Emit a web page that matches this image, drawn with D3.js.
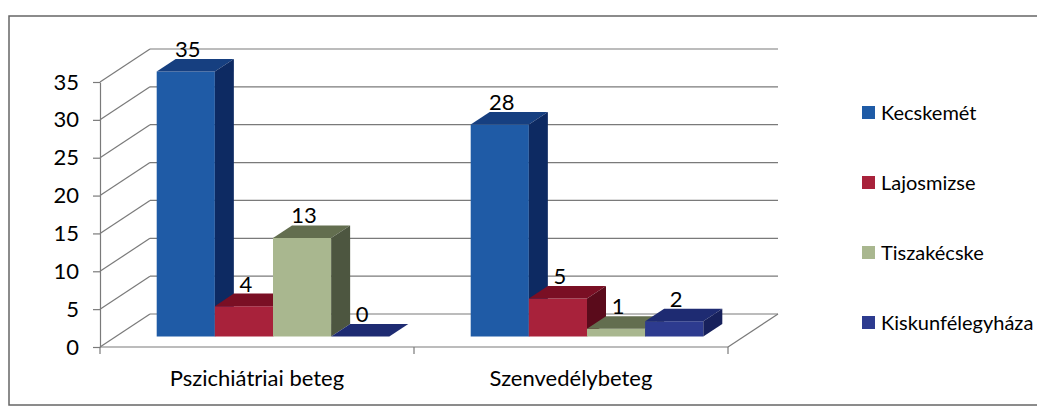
<!DOCTYPE html>
<html>
<head>
<meta charset="utf-8">
<script src="https://cdn.jsdelivr.net/npm/d3@7"></script>
<style>
  body { margin: 0; background: #fff; }
  svg text { font-family: Lato, "Open Sans", sans-serif; fill: #000; }
</style>
</head>
<body>
<svg id="chart" width="1037" height="406"></svg>
<script>
// data
const categories = ["Pszichiátriai beteg", "Szenvedélybeteg"];
const series = ["Kecskemét", "Lajosmizse", "Tiszakécske", "Kiskunfélegyháza"];
const kecskemet = [35, 28];
const lajosmizse = [4, 5];
const tiszakecske = [13, 1];
const kiskunfelegyhaza = [0, 2];
const yTicks = [0, 5, 10, 15, 20, 25, 30, 35];

const values = [kecskemet, lajosmizse, tiszakecske, kiskunfelegyhaza];

// face colours per series: front, top, side
const colors = {
    "Kecskemét":        {front: "#1f5ba6", top: "#163f80", side: "#0d2a62"},
    "Lajosmizse":       {front: "#a8223b", top: "#7a0f24", side: "#5a0b1b"},
    "Tiszakécske":      {front: "#a9b78f", top: "#636e4f", side: "#4d5640"},
    "Kiskunfélegyháza": {front: "#2d3b8f", top: "#1e2b72", side: "#17215c"}
};
const legendColors = ["#1f5ba6", "#a8223b", "#a9b78f", "#2d3b8f"];

const svg = d3.select("#chart");

// 3d offset of the back wall
const depthX = 50, depthY = -33;
const zFront = 0.32, zBack = 0.70;

const x0 = d3.scaleBand()
    .domain(categories)
    .range([100, 728])
    .paddingInner(0)
    .paddingOuter(0);

const x1 = d3.scaleBand()
    .domain(series)
    .range([0, x0.bandwidth()])
    .paddingInner(0)
    .paddingOuter(0.7);

const y = d3.scaleLinear()
    .domain([0, 35])
    .range([347, 82]);

const proj = (px, py, z) => [px + z * depthX, py + z * depthY];

// outer frame
svg.append("rect")
    .attr("x", 9).attr("y", 16)
    .attr("width", 1040).attr("height", 389)
    .attr("fill", "none")
    .attr("stroke", "#666")
    .attr("stroke-width", 1.5);

const grid = svg.append("g").attr("stroke", "#7a7a7a").attr("stroke-width", 1.2).attr("fill", "none");

// side wall diagonals + back wall gridlines
yTicks.forEach(t => {
    const a = proj(100, y(t), 0), b = proj(100, y(t), 1), c = proj(728, y(t), 1);
    grid.append("line").attr("x1", a[0]).attr("y1", a[1]).attr("x2", b[0]).attr("y2", b[1]);
    grid.append("line").attr("x1", b[0]).attr("y1", b[1]).attr("x2", c[0]).attr("y2", c[1]);
});

// floor edges
const fl = proj(100, y(0), 0), fr = proj(728, y(0), 0), br = proj(728, y(0), 1);
grid.append("line").attr("x1", fl[0]).attr("y1", fl[1]).attr("x2", fr[0]).attr("y2", fr[1]);
grid.append("line").attr("x1", fr[0]).attr("y1", fr[1]).attr("x2", br[0]).attr("y2", br[1]);

// category ticks
const catEdges = categories.map(c => x0(c)).concat([x0.range()[1]]);
catEdges.forEach(e => {
    grid.append("line").attr("x1", e).attr("y1", y(0)).attr("x2", e).attr("y2", y(0) + 7);
});

// y axis
const yAxis = d3.axisLeft(y).tickValues(yTicks).tickSize(7).tickSizeOuter(0).tickPadding(14);
const ya = svg.append("g").attr("transform", "translate(100,0)").call(yAxis);
ya.selectAll("path, line").attr("stroke", "#7a7a7a").attr("stroke-width", 1.2);
ya.selectAll("text").style("font-size", "22px").style("font-family", "Lato, sans-serif").attr("fill", "#000");

// category labels
svg.append("g").selectAll("text")
    .data(categories)
    .join("text")
    .attr("x", d => x0(d) + x0.bandwidth() / 2)
    .attr("y", 386)
    .attr("text-anchor", "middle")
    .style("font-size", "22px")
    .text(d => d);

// bars, drawn left to right so later fronts cover earlier sides
const bars = [];
categories.forEach((c, ci) => {
    series.forEach((s, si) => {
        bars.push({cat: c, ser: s, value: values[si][ci]});
    });
});

const poly = pts => "M" + pts.map(p => p.join(",")).join("L") + "Z";

const barG = svg.append("g");
bars.forEach(d => {
    const xl = x0(d.cat) + x1(d.ser);
    const xr = xl + x1.bandwidth();
    const yt = y(d.value), yb = y(0);
    const col = colors[d.ser];
    const g = barG.append("g");
    // front
    g.append("path")
        .attr("d", poly([proj(xl, yt, zFront), proj(xr, yt, zFront), proj(xr, yb, zFront), proj(xl, yb, zFront)]))
        .attr("fill", col.front);
    // top
    g.append("path")
        .attr("d", poly([proj(xl, yt, zFront), proj(xr, yt, zFront), proj(xr, yt, zBack), proj(xl, yt, zBack)]))
        .attr("fill", col.top);
    // side
    g.append("path")
        .attr("d", poly([proj(xr, yt, zFront), proj(xr, yt, zBack), proj(xr, yb, zBack), proj(xr, yb, zFront)]))
        .attr("fill", col.side);
});

// data labels
svg.append("g").selectAll("text")
    .data(bars)
    .join("text")
    .attr("x", d => proj(x0(d.cat) + x1(d.ser) + x1.bandwidth() / 2, 0, zFront)[0] + 2)
    .attr("y", d => proj(0, y(d.value), zBack)[1] - 2)
    .attr("text-anchor", "middle")
    .style("font-size", "22px")
    .text(d => d.value);

// legend
const legend = svg.append("g").selectAll("g")
    .data(series)
    .join("g")
    .attr("transform", (d, i) => `translate(862, ${113 + i * 70})`);

legend.append("rect")
    .attr("x", 0).attr("y", -7)
    .attr("width", 13).attr("height", 13)
    .attr("fill", (d, i) => legendColors[i]);

legend.append("text")
    .attr("x", 19)
    .attr("y", 7)
    .style("font-size", "20px")
    .text(d => d);
</script>
</body>
</html>
